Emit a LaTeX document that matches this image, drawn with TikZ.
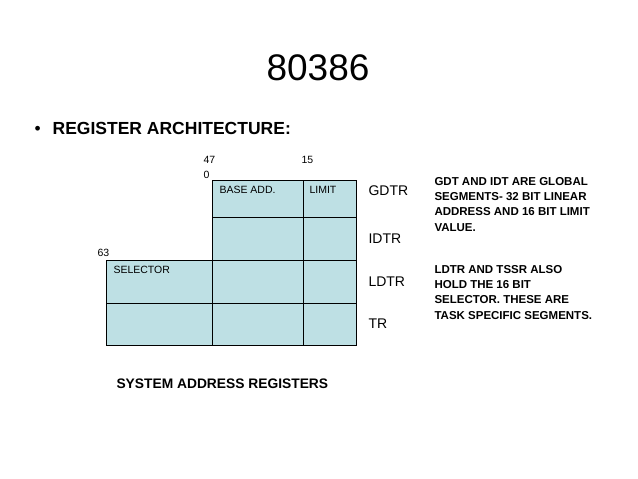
\documentclass[tikz,border=0pt]{standalone}
\usepackage{fontspec}
\setmainfont{Liberation Sans}
\usetikzlibrary{positioning}
\definecolor{cellblue}{RGB}{190,224,228}
\tikzset{
  cell/.style={draw, fill=cellblue, line width=0.8pt, anchor=north west, inner sep=0pt},
  celltext/.style={anchor=north west, font=\fontsize{10.5}{12}\selectfont},
  regname/.style={anchor=west, font=\fontsize{14}{16}\selectfont},
  bitno/.style={anchor=west, font=\fontsize{10.5}{12}\selectfont},
  note/.style={anchor=north west, align=left, font=\bfseries\fontsize{11.5}{15.2}\selectfont}
}
\begin{document}
\begin{tikzpicture}[x=1pt, y=-1pt]
			\useasboundingbox (0,0) rectangle (638,479);
			%\draw[help lines] (0,0) grid (638,479);
			\node (title) at (318,68) {\fontsize{37}{40}\selectfont 80386};
			\node[anchor=west] (bullet) at (31,128) {\fontsize{17.5}{20}\selectfont •\hspace{12pt}\textbf{REGISTER ARCHITECTURE:}};
			
			% base address column
			\draw[cell] (212,180) rectangle (303,217);
			\draw[cell] (212,217) rectangle (303,260);
			\draw[cell] (212,260) rectangle (303,303);
			\draw[cell] (212,303) rectangle (303,345);
			% limit column
			\draw[cell] (303,180) rectangle (356,217);
			\draw[cell] (303,217) rectangle (356,260);
			\draw[cell] (303,260) rectangle (356,303);
			\draw[cell] (303,303) rectangle (356,345);
			% selector column
			\draw[cell] (106,260) rectangle (212,303);
			\draw[cell] (106,303) rectangle (212,345);
			
			\node[celltext] (base) at (216,183) {BASE ADD.};
			\node[celltext] (limit) at (306,183) {LIMIT};
			\node[celltext] (sel) at (110,263) {SELECTOR};
			
			\node[bitno] (b47) at (200,160) {47};
			\node[bitno] (b0) at (200,175) {0};
			\node[bitno] (b15) at (298,160) {15};
			\node[bitno] (b63) at (94,253) {63};
			
			\node[regname] (gdtr) at (365,191) {GDTR};
			\node[regname] (idtr) at (365,239) {IDTR};
			\node[regname] (ldtr) at (365,282) {LDTR};
			\node[regname] (tr) at (365,324) {TR};
			
			\node[note] (gdtnote) at (431,174) {GDT AND IDT ARE GLOBAL\\SEGMENTS- 32 BIT LINEAR\\ADDRESS AND 16 BIT LIMIT\\VALUE.};
			\node[note] (ldtnote) at (431,262) {LDTR AND TSSR ALSO\\HOLD THE 16 BIT\\SELECTOR. THESE ARE\\TASK SPECIFIC SEGMENTS.};
			
			\node[anchor=west] (caption) at (113,384) {\bfseries\fontsize{13.8}{16}\selectfont SYSTEM ADDRESS REGISTERS};
		\end{tikzpicture}
\end{document}
